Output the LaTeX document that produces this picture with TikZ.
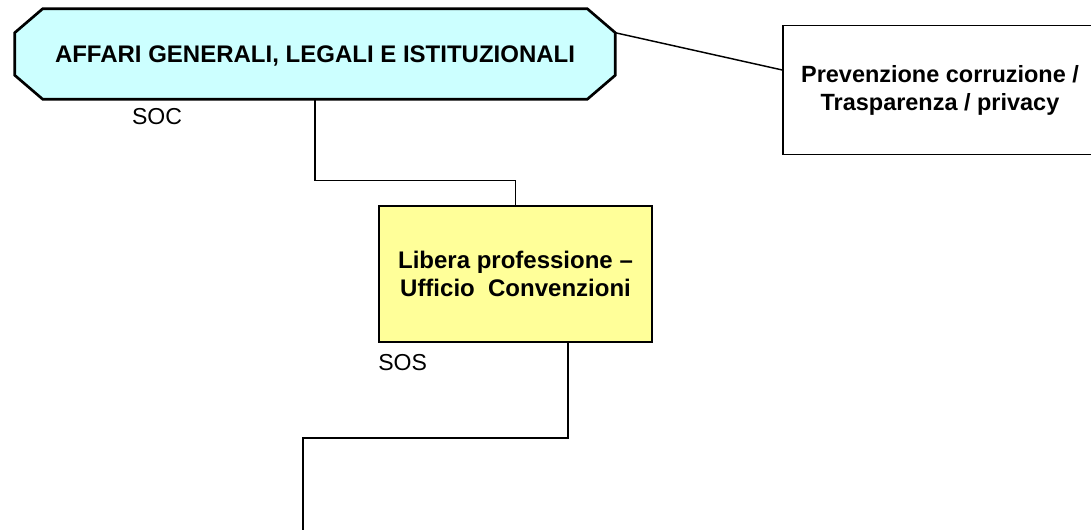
\documentclass[tikz,border=0pt]{standalone}
\usepackage{fontspec}
\setmainfont{Liberation Sans}
\usetikzlibrary{positioning, backgrounds}
\definecolor{soccyan}{HTML}{CCFFFF}
\definecolor{sosyellow}{HTML}{FFFF99}
\tikzset{
  rect1/.style = {
    shape = rectangle,
    minimum width = 450pt,
    minimum height = 67.5pt,
    text depth = 0pt,
    align = center,
    font = \fontsize{18}{21}\selectfont\bfseries,
  }
}
\tikzset{
  oct1/.style = {
    draw = black, line width = 2pt, fill = soccyan, line join = miter,
  }
}
\tikzset{
  rect2/.style = {
    shape = rectangle,
    draw = black,
    line width = 1.1pt,
    align = center,
    font = \fontsize{17.6}{21}\selectfont\bfseries,
  }
}
\tikzset{
  line1/.style = {
    draw = black, line width = 1.1pt,
  }
}
\tikzset{
  tag1/.style = {
    inner sep = 0pt,
    font = \fontsize{17.3}{18}\selectfont,
  }
}

\begin{document}
\begin{tikzpicture}[x = 0.75pt, y = 0.75pt]
        \useasboundingbox (0,0) rectangle (1091,-530);
        \begin{scope}
        \clip (0,0) rectangle (1091,-530);
        \node[rect1](1) at (315,-54){AFFARI GENERALI, LEGALI E ISTITUZIONALI};
        \begin{scope}[on background layer]
          \draw[oct1]([xshift = 21pt]1.north west) -- ([xshift = -21pt]1.north east)
            -- ([yshift = -18pt]1.north east) -- ([yshift = 18pt]1.south east)
            -- ([xshift = -21pt]1.south east) -- ([xshift = 21pt]1.south west)
            -- ([yshift = 18pt]1.south west) -- ([yshift = -18pt]1.north west) -- cycle;
        \end{scope}
        \node[rect2, minimum width = 235.5pt, minimum height = 96.75pt](2) at (940,-90){Prevenzione corruzione /\\Trasparenza / privacy};
        \node[rect2, fill = sosyellow, line width = 1.5pt, minimum width = 204.75pt, minimum height = 102pt,
              font = \fontsize{18}{21}\selectfont\bfseries](3) at (515.5,-274){Libera professione --\\Ufficio\ \ Convenzioni};
        \node[tag1](soc) at (157,-117){SOC};
        \node[tag1, below right = 8pt and 0pt of 3.south west](sos){SOS};
        \coordinate (4) at (303,-532);
        \draw[line1]([yshift = -18pt]1.north east) -- ([yshift = 15pt]2.west);
        \draw[line1](1.south) -- ++(0,-81) -| (3.north);
        \draw[line1]([xshift = 39.4pt]3.south) -- ++(0,-95) -| (4);
        \end{scope}
    \end{tikzpicture}
\end{document}
